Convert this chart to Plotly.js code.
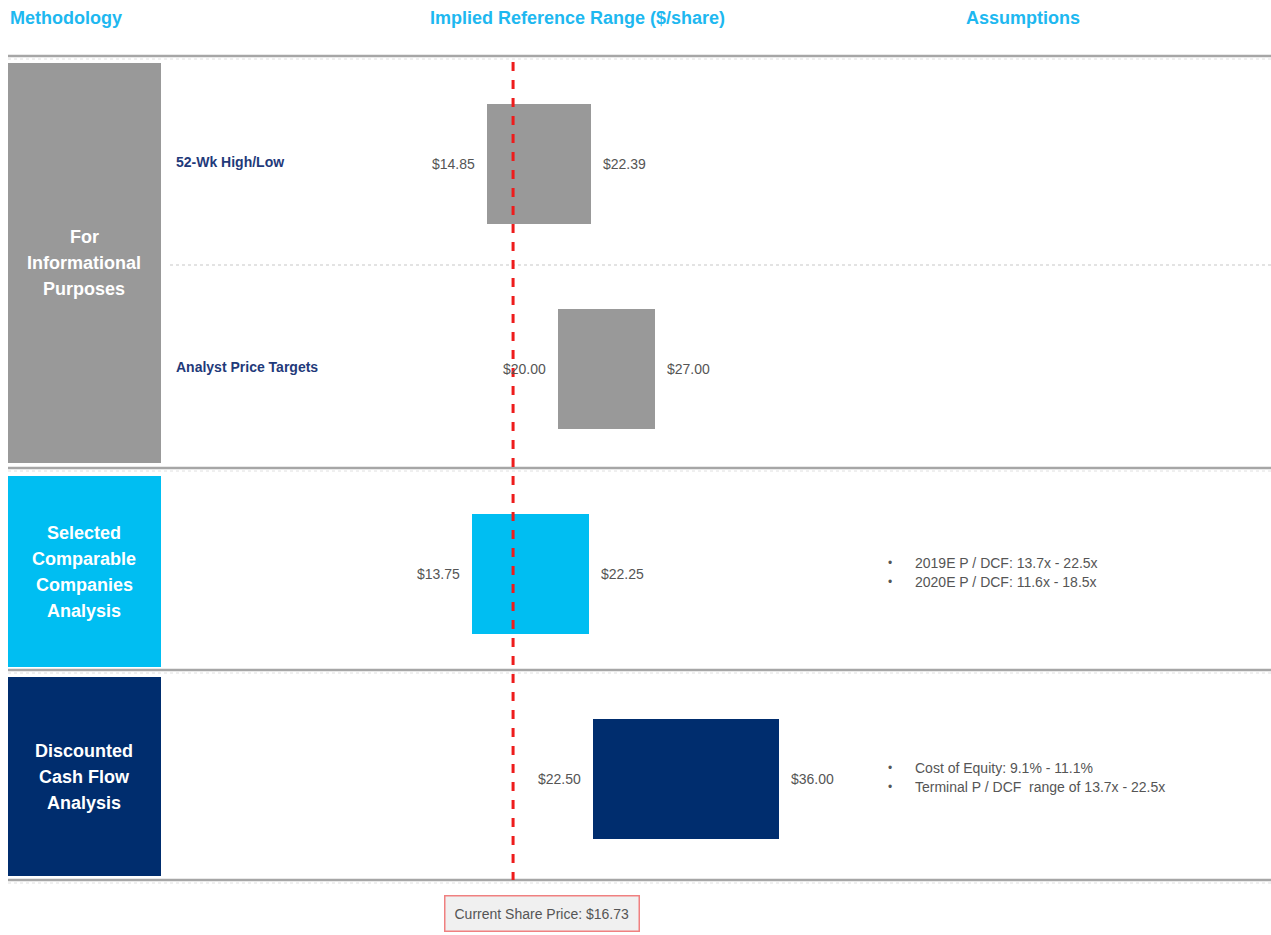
<!DOCTYPE html>
<html>
<head>
<meta charset="utf-8">
<script src="https://cdn.plot.ly/plotly-3.0.1.min.js"></script>
<style>html,body{margin:0;padding:0;background:#fff;}#chart{width:1271px;height:935px;}</style>
</head>
<body>
<div id="chart"></div>
<script>
// ---- data ----
const categories = ["52-Wk High/Low", "Analyst Price Targets", "Selected Comparable Companies Analysis", "Discounted Cash Flow Analysis"];
const rowLabels = ["52-Wk High/Low", "Analyst Price Targets", "", ""];
const lows = [14.85, 20.00, 13.75, 22.50];
const highs = [22.39, 27.00, 22.25, 36.00];
const barColors = ["#999999", "#999999", "#00BEF2", "#002D6E"];
const currentPrice = 16.73;
const groupNames = [["For", "Informational", "Purposes"], ["Selected", "Comparable", "Companies", "Analysis"], ["Discounted", "Cash Flow", "Analysis"]];
const groupColors = ["#999999", "#00BEF2", "#002D6E"];
const assumptionsComps = ["2019E P / DCF: 13.7x - 22.5x", "2020E P / DCF: 11.6x - 18.5x"];
const assumptionsDCF = ["Cost of Equity: 9.1% - 11.1%", "Terminal P / DCF  range of 13.7x - 22.5x"];
const headers = ["Methodology", "Implied Reference Range ($/share)", "Assumptions"];

// ---- layout helpers (pixel -> paper) ----
const W = 1271, H = 935;
const px = x => x / W;
const py = y => 1 - y / H;
const NARROW = "Liberation Sans Narrow, Arial Narrow, Liberation Sans, Arial, sans-serif";

const trace = {
  type: "bar",
  orientation: "h",
  y: categories,
  x: highs.map((h, i) => h - lows[i]),
  base: lows,
  width: 0.585,
  marker: {color: barColors, line: {width: 0}},
  hoverinfo: "skip",
  showlegend: false
};

const annotations = [];
// headers
const headerX = [8, 577, 1023];
const headerAnchor = ["left", "center", "center"];
headers.forEach((t, i) => annotations.push({
  xref: "paper", yref: "paper", x: px(headerX[i]), y: py(18), xanchor: headerAnchor[i], yanchor: "middle",
  text: "<b>" + t + "</b>", showarrow: false, font: {family: NARROW, size: 18, color: "#1EB8F0"}
}));
// value labels
categories.forEach((c, i) => {
  annotations.push({x: lows[i], y: c, xref: "x", yref: "y", xanchor: "right", xshift: -10, text: "$" + lows[i].toFixed(2), showarrow: false, font: {family: NARROW, size: 14, color: "#555555"}});
  annotations.push({x: highs[i], y: c, xref: "x", yref: "y", xanchor: "left", xshift: 10, text: "$" + highs[i].toFixed(2), showarrow: false, font: {family: NARROW, size: 14, color: "#555555"}});
  if (rowLabels[i]) annotations.push({x: px(174), xref: "paper", y: c, yref: "y", yshift: 2, xanchor: "left", text: "<b>" + rowLabels[i] + "</b>", showarrow: false, font: {family: NARROW, size: 14, color: "#1F3A7A"}});
});
// group boxes text (one annotation per line, 26px line spacing)
const groupBoxes = [[63, 463], [476, 667], [677, 876]];
groupNames.forEach((lines, i) => {
  const mid = (groupBoxes[i][0] + groupBoxes[i][1]) / 2;
  lines.forEach((t, j) => annotations.push({
    xref: "paper", yref: "paper", x: px(84), y: py(mid + (j - (lines.length - 1) / 2) * 26), xanchor: "center", yanchor: "middle",
    text: "<b>" + t + "</b>", showarrow: false, font: {family: NARROW, size: 18, color: "#ffffff"}
  }));
});
// assumptions
function bullets(list, y) {
  list.forEach((t, j) => {
    annotations.push({xref: "paper", yref: "paper", x: px(886), y: py(y + j * 19), xanchor: "left", yanchor: "middle", text: "•", showarrow: false, font: {family: NARROW, size: 12, color: "#555555"}});
    annotations.push({xref: "paper", yref: "paper", x: px(913), y: py(y + j * 19), xanchor: "left", yanchor: "middle", text: t, showarrow: false, font: {family: NARROW, size: 14, color: "#555555"}});
  });
}
bullets(assumptionsComps, 563);
bullets(assumptionsDCF, 768);
// current price box
annotations.push({
  xref: "paper", yref: "paper", x: px(542), y: py(913), xanchor: "center", yanchor: "middle",
  text: "Current Share Price: $" + currentPrice.toFixed(2), showarrow: false,
  font: {family: NARROW, size: 14, color: "#555555"},
  bgcolor: "#F0F0F0", bordercolor: "#F08080", borderwidth: 1.5, borderpad: 9
});

const shapes = [];
// group boxes
groupBoxes.forEach((b, i) => shapes.push({type: "rect", xref: "paper", yref: "paper", x0: px(8), x1: px(161), y0: py(b[0]), y1: py(b[1]), fillcolor: groupColors[i], line: {width: 0}, layer: "below"}));
// separator lines
[56, 468, 670, 880].forEach(y => {
  shapes.push({type: "line", xref: "paper", yref: "paper", x0: px(8), x1: 1, y0: py(y), y1: py(y), line: {color: "#A6A6A6", width: 2.5}});
  shapes.push({type: "line", xref: "paper", yref: "paper", x0: px(8), x1: 1, y0: py(y + 3), y1: py(y + 3), line: {color: "#E0E0E0", width: 1, dash: "dot"}});
});
shapes.push({type: "line", xref: "paper", yref: "paper", x0: px(170), x1: 1, y0: py(265), y1: py(265), line: {color: "#DADADA", width: 1.5, dash: "dot"}});
// current price line
shapes.push({type: "line", xref: "x", yref: "paper", x0: currentPrice, x1: currentPrice, y0: py(62), y1: py(880), line: {color: "#EE1C1C", width: 3, dash: "dash"}, layer: "above"});

const layout = {
  width: W, height: H,
  margin: {l: 0, r: 0, t: 0, b: 0, pad: 0},
  paper_bgcolor: "#ffffff", plot_bgcolor: "rgba(0,0,0,0)",
  xaxis: {range: [-282.2 / 13.8, (W - 282.2) / 13.8], visible: false, fixedrange: true},
  yaxis: {type: "category", range: [(H - 164) / 205, -164 / 205], visible: false, fixedrange: true},
  bargap: 0,
  annotations: annotations,
  shapes: shapes,
  showlegend: false
};

Plotly.newPlot("chart", [trace], layout, {displayModeBar: false, staticPlot: true});
</script>
</body>
</html>
